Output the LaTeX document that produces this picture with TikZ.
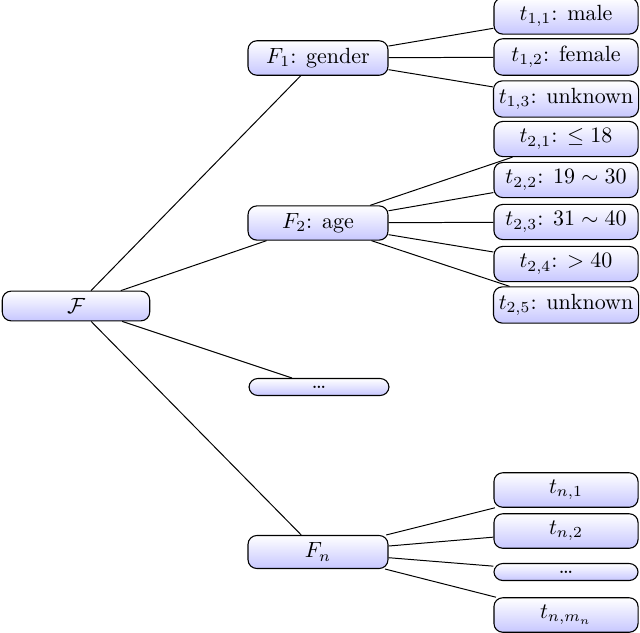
\documentclass[tikz,border=0pt]{standalone}
\usepackage{amsmath,amssymb}
\begin{document}
\begin{tikzpicture}[x=0.4545pt,y=-0.4545pt,
  box/.style={draw, line width=0.5pt, rounded corners=4pt, top color=white, bottom color=blue!22, inner ysep=3.33pt, inner xsep=2.4pt, font=\fontsize{10}{12}\selectfont},
  rootbox/.style={box, minimum width=67pt},
  midbox/.style={box, minimum width=63.6pt},
  leafbox/.style={box, minimum width=65.5pt},
  link/.style={line width=0.45pt}]
\useasboundingbox (0,0) rectangle (640,632);
\node[rootbox] (F) at (76,306) {$\mathcal{F}$};
\node[midbox] (F1) at (318,58) {$F_1$: gender};
\node[midbox] (F2) at (318,223) {$F_2$: age};
\node[midbox] (Fd) at (319,387) {\ldots};
\node[midbox] (Fn) at (318,552) {$F_n$};
\node[leafbox] (t11) at (566,16) {$t_{1,1}$: male};
\node[leafbox] (t12) at (566,57) {$t_{1,2}$: female};
\node[leafbox] (t13) at (566,99) {$t_{1,3}$: unknown};
\node[leafbox] (t21) at (566,139) {$t_{2,1}$: $\le 18$};
\node[leafbox] (t22) at (566,180) {$t_{2,2}$: $19\sim 30$};
\node[leafbox] (t23) at (566,222) {$t_{2,3}$: $31\sim 40$};
\node[leafbox] (t24) at (566,264) {$t_{2,4}$: $>40$};
\node[leafbox] (t25) at (566,305) {$t_{2,5}$: unknown};
\node[leafbox] (tn1) at (566,490) {$t_{n,1}$};
\node[leafbox] (tn2) at (566,531) {$t_{n,2}$};
\node[leafbox] (tnd) at (566,572) {\ldots};
\node[leafbox] (tnm) at (566,615) {$t_{n,m_n}$};
\foreach \c in {F1,F2,Fd,Fn} \draw[link] (F) -- (\c);
\foreach \c in {t11,t12,t13} \draw[link] (F1) -- (\c);
\foreach \c in {t21,t22,t23,t24,t25} \draw[link] (F2) -- (\c);
\foreach \c in {tn1,tn2,tnd,tnm} \draw[link] (Fn) -- (\c);
\end{tikzpicture}
\end{document}
